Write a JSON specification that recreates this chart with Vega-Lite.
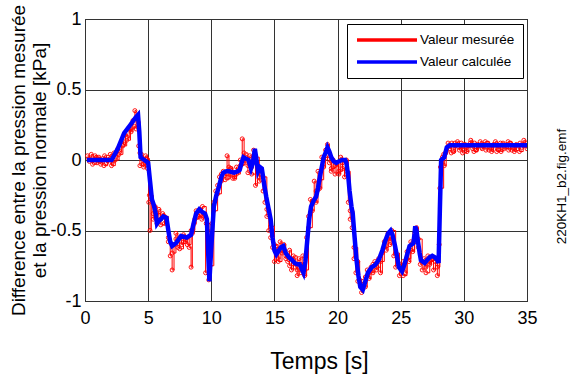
{
  "$schema": "https://vega.github.io/schema/vega-lite/v6.json",
  "width": 442,
  "height": 282,
  "autosize": {"type": "none"},
  "padding": {"left": 85, "top": 19, "right": 48, "bottom": 75},
  "background": "white",
  "config": {
    "font": "Liberation Sans",
    "view": {"stroke": "black", "strokeWidth": 1},
    "axis": {
      "gridColor": "#333",
      "gridOpacity": 1,
      "gridWidth": 1,
      "ticks": false,
      "domain": false,
      "labelFont": "Liberation Sans",
      "labelFontSize": 18,
      "labelColor": "black",
      "titleColor": "black",
      "titleFont": "Liberation Sans",
      "titleFontWeight": "normal"
    }
  },
  "datasets": {
    "mesure": [
      {"t":0.2,"v":0.03},{"t":0.35,"v":-0.01},{"t":0.5,"v":0.04},{"t":0.65,"v":0.0},{"t":0.8,"v":0.03},{"t":0.95,"v":-0.02},{"t":1.1,"v":0.02},{"t":1.25,"v":-0.03},{"t":1.4,"v":0.01},{"t":1.55,"v":0.03},{"t":1.7,"v":-0.02},{"t":1.85,"v":0.02},{"t":2.0,"v":0.04},{"t":2.15,"v":-0.02},{"t":2.3,"v":0.05},{"t":2.45,"v":0.02},{"t":2.6,"v":0.08},{"t":2.75,"v":0.06},{"t":2.9,"v":0.13},{"t":3.05,"v":0.11},{"t":3.2,"v":0.18},{"t":3.35,"v":0.16},{"t":3.5,"v":0.22},{"t":3.65,"v":0.2},{"t":3.8,"v":0.28},{"t":3.95,"v":0.35},{"t":4.05,"v":0.22},{"t":4.15,"v":0.3},{"t":4.25,"v":0.1},{"t":4.35,"v":-0.04},{"t":4.5,"v":0.02},{"t":4.65,"v":-0.05},{"t":4.8,"v":0.03},{"t":4.95,"v":-0.06},{"t":5.05,"v":-0.3},{"t":5.15,"v":-0.5},{"t":5.25,"v":-0.28},{"t":5.4,"v":-0.38},{"t":5.55,"v":-0.33},{"t":5.7,"v":-0.45},{"t":5.85,"v":-0.35},{"t":6.0,"v":-0.42},{"t":6.15,"v":-0.38},{"t":6.3,"v":-0.45},{"t":6.45,"v":-0.42},{"t":6.6,"v":-0.55},{"t":6.75,"v":-0.68},{"t":6.9,"v":-0.78},{"t":7.05,"v":-0.6},{"t":7.2,"v":-0.52},{"t":7.35,"v":-0.62},{"t":7.5,"v":-0.55},{"t":7.65,"v":-0.6},{"t":7.8,"v":-0.53},{"t":7.95,"v":-0.58},{"t":8.1,"v":-0.55},{"t":8.25,"v":-0.62},{"t":8.4,"v":-0.76},{"t":8.5,"v":-0.52},{"t":8.65,"v":-0.45},{"t":8.8,"v":-0.36},{"t":8.95,"v":-0.4},{"t":9.1,"v":-0.35},{"t":9.25,"v":-0.42},{"t":9.4,"v":-0.38},{"t":9.55,"v":-0.8},{"t":9.7,"v":-0.5},{"t":9.8,"v":-0.85},{"t":9.95,"v":-0.6},{"t":10.05,"v":-0.45},{"t":10.2,"v":-0.3},{"t":10.35,"v":-0.22},{"t":10.5,"v":-0.18},{"t":10.65,"v":-0.12},{"t":10.8,"v":-0.15},{"t":10.95,"v":-0.08},{"t":11.1,"v":-0.11},{"t":11.25,"v":0.03},{"t":11.4,"v":-0.12},{"t":11.55,"v":-0.06},{"t":11.7,"v":-0.1},{"t":11.85,"v":-0.13},{"t":12.0,"v":-0.05},{"t":12.15,"v":-0.08},{"t":12.3,"v":0.0},{"t":12.45,"v":0.15},{"t":12.6,"v":-0.02},{"t":12.75,"v":0.02},{"t":12.9,"v":-0.09},{"t":13.05,"v":0.03},{"t":13.2,"v":-0.05},{"t":13.35,"v":0.07},{"t":13.5,"v":-0.18},{"t":13.65,"v":-0.05},{"t":13.8,"v":-0.12},{"t":13.95,"v":-0.08},{"t":14.1,"v":-0.22},{"t":14.25,"v":-0.3},{"t":14.4,"v":-0.4},{"t":14.55,"v":-0.5},{"t":14.7,"v":-0.55},{"t":14.85,"v":-0.62},{"t":15.0,"v":-0.72},{"t":15.15,"v":-0.62},{"t":15.3,"v":-0.7},{"t":15.45,"v":-0.58},{"t":15.6,"v":-0.66},{"t":15.75,"v":-0.6},{"t":15.9,"v":-0.68},{"t":16.05,"v":-0.72},{"t":16.2,"v":-0.64},{"t":16.35,"v":-0.78},{"t":16.5,"v":-0.7},{"t":16.65,"v":-0.76},{"t":16.8,"v":-0.82},{"t":16.95,"v":-0.7},{"t":17.1,"v":-0.8},{"t":17.25,"v":-0.68},{"t":17.4,"v":-0.82},{"t":17.55,"v":-0.55},{"t":17.7,"v":-0.4},{"t":17.85,"v":-0.28},{"t":18.0,"v":-0.36},{"t":18.15,"v":-0.15},{"t":18.3,"v":-0.3},{"t":18.45,"v":-0.08},{"t":18.6,"v":-0.2},{"t":18.75,"v":0.02},{"t":18.9,"v":-0.05},{"t":19.05,"v":0.07},{"t":19.2,"v":0.11},{"t":19.35,"v":-0.02},{"t":19.5,"v":-0.08},{"t":19.65,"v":0.0},{"t":19.8,"v":-0.1},{"t":19.95,"v":-0.03},{"t":20.1,"v":-0.1},{"t":20.25,"v":0.02},{"t":20.4,"v":-0.06},{"t":20.55,"v":-0.12},{"t":20.7,"v":0.0},{"t":20.85,"v":-0.3},{"t":21.0,"v":-0.42},{"t":21.15,"v":-0.48},{"t":21.3,"v":-0.7},{"t":21.45,"v":-0.8},{"t":21.6,"v":-0.72},{"t":21.75,"v":-0.85},{"t":21.9,"v":-0.94},{"t":22.05,"v":-0.86},{"t":22.2,"v":-0.9},{"t":22.35,"v":-0.78},{"t":22.5,"v":-0.84},{"t":22.65,"v":-0.76},{"t":22.8,"v":-0.8},{"t":22.95,"v":-0.72},{"t":23.1,"v":-0.78},{"t":23.25,"v":-0.7},{"t":23.4,"v":-0.8},{"t":23.55,"v":-0.66},{"t":23.7,"v":-0.58},{"t":23.85,"v":-0.64},{"t":24.0,"v":-0.52},{"t":24.15,"v":-0.6},{"t":24.3,"v":-0.56},{"t":24.45,"v":-0.68},{"t":24.6,"v":-0.76},{"t":24.75,"v":-0.7},{"t":24.9,"v":-0.82},{"t":25.05,"v":-0.78},{"t":25.2,"v":-0.72},{"t":25.35,"v":-0.8},{"t":25.5,"v":-0.65},{"t":25.65,"v":-0.72},{"t":25.8,"v":-0.58},{"t":25.95,"v":-0.65},{"t":26.1,"v":-0.52},{"t":26.25,"v":-0.48},{"t":26.4,"v":-0.62},{"t":26.55,"v":-0.74},{"t":26.7,"v":-0.78},{"t":26.85,"v":-0.7},{"t":27.0,"v":-0.76},{"t":27.15,"v":-0.68},{"t":27.3,"v":-0.74},{"t":27.45,"v":-0.7},{"t":27.6,"v":-0.78},{"t":27.75,"v":-0.72},{"t":27.9,"v":-0.82},{"t":28.05,"v":-0.6},{"t":28.15,"v":-0.05},{"t":28.3,"v":0.02},{"t":28.45,"v":-0.04},{"t":28.6,"v":0.06},{"t":28.75,"v":0.12},{"t":28.9,"v":0.08},{"t":29.05,"v":0.12},{"t":29.2,"v":0.06},{"t":29.35,"v":0.1},{"t":29.5,"v":0.13},{"t":29.65,"v":0.07},{"t":29.8,"v":0.12},{"t":29.95,"v":0.08},{"t":30.1,"v":0.11},{"t":30.25,"v":0.06},{"t":30.4,"v":0.1},{"t":30.55,"v":0.14},{"t":30.7,"v":0.08},{"t":30.85,"v":0.12},{"t":31.0,"v":0.07},{"t":31.15,"v":0.1},{"t":31.3,"v":0.13},{"t":31.45,"v":0.08},{"t":31.6,"v":0.11},{"t":31.75,"v":0.07},{"t":31.9,"v":0.12},{"t":32.05,"v":0.09},{"t":32.2,"v":0.06},{"t":32.35,"v":0.11},{"t":32.5,"v":0.13},{"t":32.65,"v":0.08},{"t":32.8,"v":0.1},{"t":32.95,"v":0.06},{"t":33.1,"v":0.12},{"t":33.25,"v":0.09},{"t":33.4,"v":0.11},{"t":33.55,"v":0.07},{"t":33.7,"v":0.12},{"t":33.85,"v":0.09},{"t":34.0,"v":0.06},{"t":34.15,"v":0.11},{"t":34.3,"v":0.08},{"t":34.45,"v":0.12},{"t":34.6,"v":0.09},{"t":34.75,"v":0.14},{"t":34.9,"v":0.1},{"t":35.0,"v":0.12}
    ],
    "mesure2": [
      {"t":0.3,"v":0.01},{"t":0.6,"v":-0.03},{"t":0.9,"v":0.02},{"t":1.2,"v":-0.01},{"t":1.5,"v":-0.04},{"t":1.8,"v":0.0},{"t":2.1,"v":-0.04},{"t":2.4,"v":0.0},{"t":2.7,"v":0.04},{"t":3.0,"v":0.1},{"t":3.3,"v":0.14},{"t":3.6,"v":0.22},{"t":3.9,"v":0.24},{"t":4.2,"v":0.27},{"t":4.35,"v":0.05},{"t":4.6,"v":-0.03},{"t":4.9,"v":0.01},{"t":5.1,"v":-0.25},{"t":5.4,"v":-0.42},{"t":5.7,"v":-0.38},{"t":6.0,"v":-0.46},{"t":6.3,"v":-0.4},{"t":6.6,"v":-0.58},{"t":6.9,"v":-0.66},{"t":7.2,"v":-0.56},{"t":7.5,"v":-0.63},{"t":7.8,"v":-0.58},{"t":8.1,"v":-0.6},{"t":8.4,"v":-0.5},{"t":8.7,"v":-0.42},{"t":9.0,"v":-0.4},{"t":9.3,"v":-0.33},{"t":9.6,"v":-0.45},{"t":9.9,"v":-0.75},{"t":10.2,"v":-0.36},{"t":10.5,"v":-0.24},{"t":10.8,"v":-0.1},{"t":11.1,"v":-0.14},{"t":11.4,"v":-0.05},{"t":11.7,"v":-0.13},{"t":12.0,"v":-0.1},{"t":12.3,"v":-0.04},{"t":12.6,"v":0.05},{"t":12.9,"v":-0.04},{"t":13.2,"v":-0.1},{"t":13.5,"v":0.02},{"t":13.8,"v":-0.15},{"t":14.1,"v":-0.12},{"t":14.4,"v":-0.35},{"t":14.7,"v":-0.47},{"t":15.0,"v":-0.6},{"t":15.3,"v":-0.72},{"t":15.6,"v":-0.64},{"t":15.9,"v":-0.7},{"t":16.2,"v":-0.75},{"t":16.5,"v":-0.68},{"t":16.8,"v":-0.78},{"t":17.1,"v":-0.74},{"t":17.4,"v":-0.78},{"t":17.7,"v":-0.48},{"t":18.0,"v":-0.3},{"t":18.3,"v":-0.22},{"t":18.6,"v":-0.14},{"t":18.9,"v":0.0},{"t":19.2,"v":0.03},{"t":19.5,"v":-0.06},{"t":19.8,"v":-0.04},{"t":20.1,"v":-0.08},{"t":20.4,"v":-0.02},{"t":20.7,"v":-0.08},{"t":21.0,"v":-0.36},{"t":21.3,"v":-0.62},{"t":21.6,"v":-0.86},{"t":21.9,"v":-0.88},{"t":22.2,"v":-0.83},{"t":22.5,"v":-0.8},{"t":22.8,"v":-0.74},{"t":23.1,"v":-0.76},{"t":23.4,"v":-0.72},{"t":23.7,"v":-0.62},{"t":24.0,"v":-0.56},{"t":24.3,"v":-0.5},{"t":24.6,"v":-0.66},{"t":24.9,"v":-0.74},{"t":25.2,"v":-0.82},{"t":25.5,"v":-0.7},{"t":25.8,"v":-0.64},{"t":26.1,"v":-0.58},{"t":26.4,"v":-0.56},{"t":26.7,"v":-0.72},{"t":27.0,"v":-0.8},{"t":27.3,"v":-0.72},{"t":27.6,"v":-0.7},{"t":27.9,"v":-0.76},{"t":28.1,"v":-0.2},{"t":28.4,"v":0.04},{"t":28.7,"v":0.09},{"t":29.0,"v":0.05},{"t":29.3,"v":0.12},{"t":29.6,"v":0.09},{"t":29.9,"v":0.05},{"t":30.2,"v":0.09},{"t":30.5,"v":0.12},{"t":30.8,"v":0.06},{"t":31.1,"v":0.11},{"t":31.4,"v":0.09},{"t":31.7,"v":0.13},{"t":32.0,"v":0.07},{"t":32.3,"v":0.1},{"t":32.6,"v":0.06},{"t":32.9,"v":0.12},{"t":33.2,"v":0.08},{"t":33.5,"v":0.13},{"t":33.8,"v":0.07},{"t":34.1,"v":0.1},{"t":34.4,"v":0.06},{"t":34.7,"v":0.11},{"t":35.0,"v":0.08}
    ],
    "calcul": [
      {"t":0.15,"v":0},{"t":2.1,"v":0},{"t":2.6,"v":0.08},{"t":3.1,"v":0.19},{"t":3.6,"v":0.25},{"t":4.0,"v":0.3},{"t":4.2,"v":0.32},{"t":4.3,"v":0.2},{"t":4.4,"v":0.02},{"t":4.7,"v":0.0},{"t":5.0,"v":-0.02},{"t":5.15,"v":-0.15},{"t":5.3,"v":-0.28},{"t":5.45,"v":-0.32},{"t":5.6,"v":-0.38},{"t":5.7,"v":-0.45},{"t":5.85,"v":-0.43},{"t":6.0,"v":-0.42},{"t":6.2,"v":-0.4},{"t":6.45,"v":-0.41},{"t":6.6,"v":-0.5},{"t":6.75,"v":-0.58},{"t":6.9,"v":-0.61},{"t":7.2,"v":-0.59},{"t":7.6,"v":-0.54},{"t":8.05,"v":-0.55},{"t":8.4,"v":-0.53},{"t":8.6,"v":-0.45},{"t":8.8,"v":-0.38},{"t":9.05,"v":-0.35},{"t":9.3,"v":-0.37},{"t":9.5,"v":-0.38},{"t":9.65,"v":-0.42},{"t":9.75,"v":-0.65},{"t":9.85,"v":-0.86},{"t":9.95,"v":-0.7},{"t":10.05,"v":-0.55},{"t":10.2,"v":-0.33},{"t":10.4,"v":-0.25},{"t":10.6,"v":-0.19},{"t":10.8,"v":-0.12},{"t":10.95,"v":-0.09},{"t":11.2,"v":-0.08},{"t":11.4,"v":-0.08},{"t":11.8,"v":-0.09},{"t":12.1,"v":-0.08},{"t":12.25,"v":-0.07},{"t":12.4,"v":-0.02},{"t":12.55,"v":0.02},{"t":12.75,"v":0.01},{"t":12.95,"v":0.0},{"t":13.15,"v":-0.06},{"t":13.3,"v":-0.02},{"t":13.45,"v":0.08},{"t":13.55,"v":0.02},{"t":13.7,"v":-0.08},{"t":13.85,"v":-0.05},{"t":14.0,"v":-0.06},{"t":14.2,"v":-0.18},{"t":14.35,"v":-0.26},{"t":14.5,"v":-0.33},{"t":14.7,"v":-0.42},{"t":14.85,"v":-0.55},{"t":15.0,"v":-0.64},{"t":15.15,"v":-0.67},{"t":15.3,"v":-0.65},{"t":15.5,"v":-0.62},{"t":15.7,"v":-0.61},{"t":15.9,"v":-0.66},{"t":16.15,"v":-0.69},{"t":16.4,"v":-0.71},{"t":16.6,"v":-0.73},{"t":16.8,"v":-0.74},{"t":17.0,"v":-0.74},{"t":17.15,"v":-0.77},{"t":17.3,"v":-0.8},{"t":17.45,"v":-0.72},{"t":17.6,"v":-0.57},{"t":17.75,"v":-0.42},{"t":17.9,"v":-0.33},{"t":18.1,"v":-0.29},{"t":18.3,"v":-0.26},{"t":18.45,"v":-0.2},{"t":18.6,"v":-0.12},{"t":18.75,"v":-0.05},{"t":18.9,"v":0.02},{"t":19.05,"v":0.05},{"t":19.2,"v":0.09},{"t":19.35,"v":0.06},{"t":19.5,"v":0.02},{"t":19.7,"v":-0.01},{"t":19.9,"v":-0.02},{"t":20.1,"v":-0.01},{"t":20.35,"v":0.0},{"t":20.6,"v":0.0},{"t":20.7,"v":-0.02},{"t":20.85,"v":-0.12},{"t":20.95,"v":-0.22},{"t":21.1,"v":-0.33},{"t":21.2,"v":-0.38},{"t":21.35,"v":-0.55},{"t":21.5,"v":-0.71},{"t":21.65,"v":-0.82},{"t":21.8,"v":-0.9},{"t":22.0,"v":-0.92},{"t":22.2,"v":-0.86},{"t":22.4,"v":-0.8},{"t":22.55,"v":-0.78},{"t":22.7,"v":-0.76},{"t":22.9,"v":-0.75},{"t":23.1,"v":-0.73},{"t":23.3,"v":-0.7},{"t":23.55,"v":-0.64},{"t":23.75,"v":-0.58},{"t":24.0,"v":-0.52},{"t":24.2,"v":-0.5},{"t":24.35,"v":-0.53},{"t":24.55,"v":-0.61},{"t":24.7,"v":-0.68},{"t":24.85,"v":-0.76},{"t":25.1,"v":-0.79},{"t":25.3,"v":-0.74},{"t":25.45,"v":-0.69},{"t":25.7,"v":-0.61},{"t":26.0,"v":-0.59},{"t":26.1,"v":-0.52},{"t":26.15,"v":-0.47},{"t":26.25,"v":-0.5},{"t":26.35,"v":-0.57},{"t":26.5,"v":-0.66},{"t":26.6,"v":-0.71},{"t":26.9,"v":-0.73},{"t":27.1,"v":-0.71},{"t":27.3,"v":-0.69},{"t":27.5,"v":-0.68},{"t":27.7,"v":-0.69},{"t":27.9,"v":-0.71},{"t":28.0,"v":-0.73},{"t":28.1,"v":-0.35},{"t":28.2,"v":0.0},{"t":28.45,"v":0.02},{"t":28.65,"v":0.09},{"t":28.9,"v":0.105},{"t":35,"v":0.105}
    ]
  },
  "layer": [
    {
      "data": {"name": "mesure"},
      "mark": {"type": "line", "interpolate": "step-after", "strokeWidth": 1, "clip": true,
               "point": {"filled": false, "size": 16, "strokeWidth": 0.9}},
      "encoding": {
        "x": {"field": "t", "type": "quantitative",
              "scale": {"domain": [0, 35], "nice": false},
              "axis": {"values": [0,5,10,15,20,25,30,35], "labelPadding": 8, "labelFlush": false,
                       "title": "Temps [s]", "titleFontSize": 23, "titleX": 234, "titleY": 67,
                       "titleAlign": "center", "titleBaseline": "alphabetic"}},
        "y": {"field": "v", "type": "quantitative",
              "scale": {"domain": [-1, 1], "nice": false},
              "axis": {"values": [-1,-0.5,0,0.5,1], "labelExpr": "'' + datum.value", "labelPadding": 4,
                       "labelFlush": false,
                       "title": ["Difference entre la pression mesurée", "et la pression normale [kPa]"],
                       "titleFontSize": 19, "titleLineHeight": 21, "titleAngle": -90,
                       "titleX": -67, "titleY": 141, "titleAlign": "center", "titleBaseline": "middle"}},
        "color": {"datum": "Valeur mesurée", "type": "nominal",
                  "scale": {"domain": ["Valeur mesurée", "Valeur calculée"], "range": ["#ff0000", "#0000ff"]},
                  "legend": {"title": null, "orient": "none", "legendX": 262, "legendY": 5,
                             "symbolType": "stroke", "symbolSize": 3600, "symbolStrokeWidth": 3.5,
                             "clipHeight": 16, "rowPadding": 6, "padding": 8,
                             "strokeColor": "black", "fillColor": "white", "cornerRadius": 0,
                             "labelFontSize": 13.5, "labelFont": "Liberation Sans", "labelColor": "black",
                             "labelOffset": 1}}
      }
    },
    {
      "data": {"name": "mesure2"},
      "mark": {"type": "line", "interpolate": "step-after", "strokeWidth": 1, "clip": true,
               "point": {"filled": false, "size": 16, "strokeWidth": 0.9}},
      "encoding": {
        "x": {"field": "t", "type": "quantitative", "scale": {"domain": [0, 35], "nice": false}},
        "y": {"field": "v", "type": "quantitative", "scale": {"domain": [-1, 1], "nice": false}, "axis": null},
        "color": {"datum": "Valeur mesurée", "type": "nominal"}
      }
    },
    {
      "data": {"name": "calcul"},
      "mark": {"type": "line", "strokeWidth": 4.5, "clip": true},
      "encoding": {
        "x": {"field": "t", "type": "quantitative", "scale": {"domain": [0, 35], "nice": false}},
        "y": {"field": "v", "type": "quantitative",
              "scale": {"domain": [-1, 1], "nice": false},
              "axis": {"orient": "right", "labels": false, "grid": false, "ticks": false, "domain": false,
                       "title": "220KH1_b2.fig.emf", "titleFontSize": 13.5, "titleAngle": -90,
                       "titleX": 34, "titleY": 167, "titleAlign": "center", "titleBaseline": "middle"}},
        "color": {"datum": "Valeur calculée", "type": "nominal"}
      }
    }
  ],
  "resolve": {"axis": {"y": "independent"}}
}
